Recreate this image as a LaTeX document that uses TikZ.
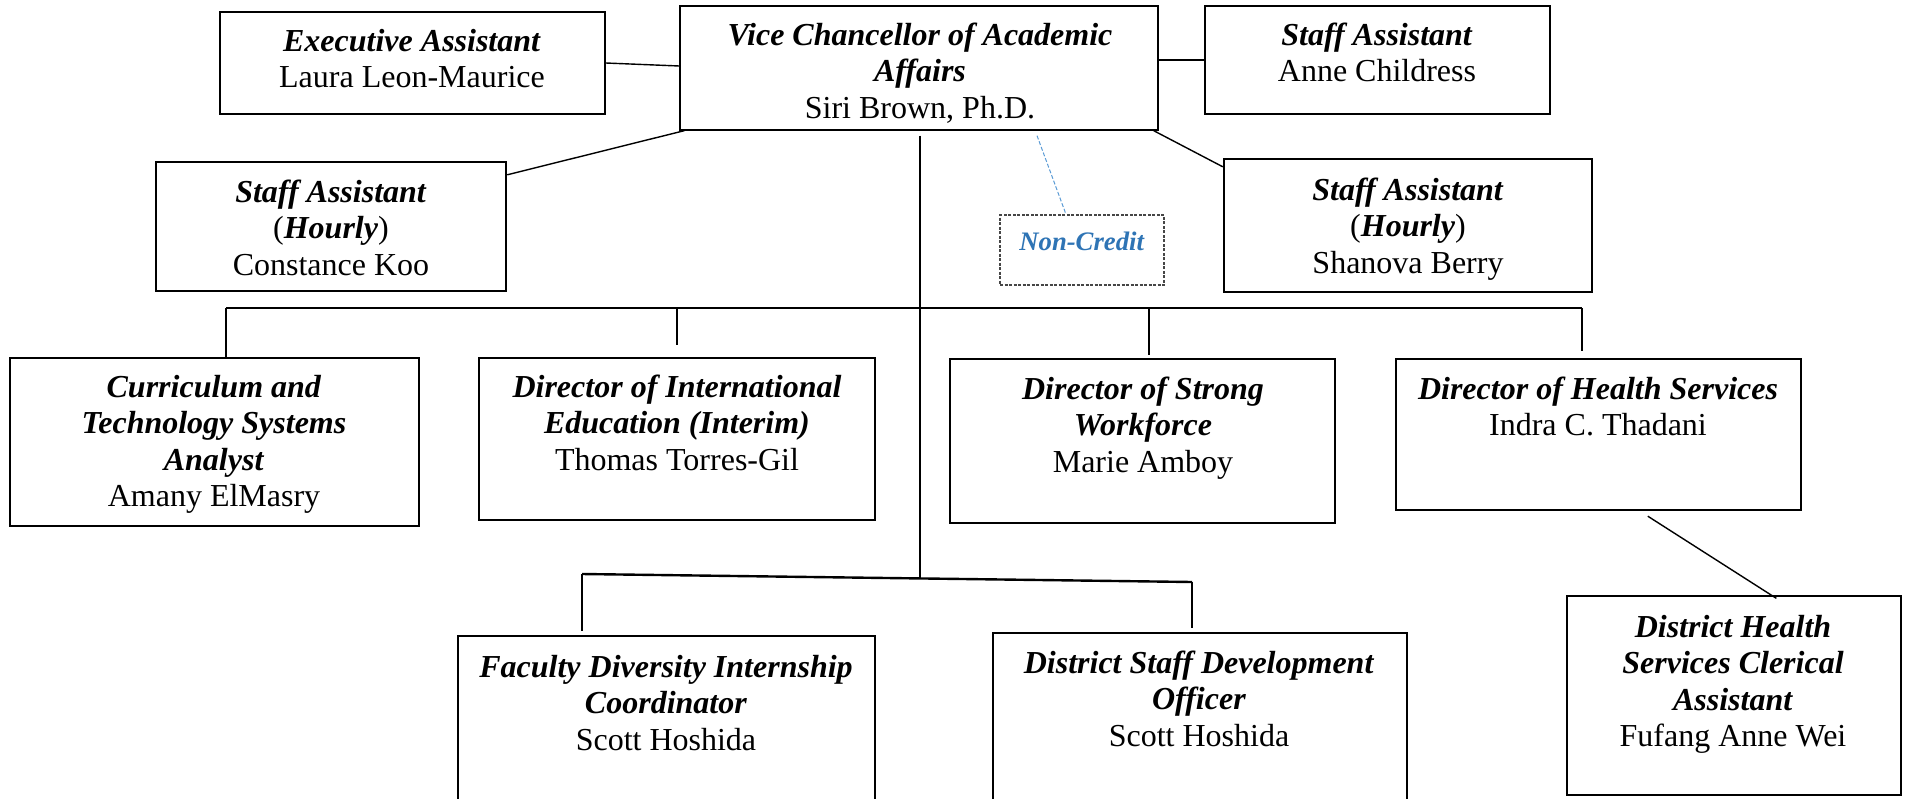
\documentclass[tikz,border=0pt]{standalone}
\usepackage{fontspec}
\setmainfont{Liberation Serif}
\usetikzlibrary{calc}
\definecolor{ncblue}{RGB}{46,116,181}
\definecolor{lnblue}{RGB}{91,155,213}
\definecolor{ncgray}{RGB}{70,70,70}
\newcommand\ti[1]{\textbf{\textit{#1}}}
\begin{document}
\begin{tikzpicture}[x=1pt,y=-1pt,
  box/.style={draw=black, line width=1.3pt, inner sep=0pt, fill=white},
  thickbox/.style={box, line width=2.4pt},
  ncbox/.style={draw=ncgray, line width=1.3pt, dash pattern=on 3pt off 1.5pt, inner sep=0pt},
  txt/.style={align=center, inner sep=0pt, anchor=north, font=\fontsize{32}{36.5}\selectfont},
  nctxt/.style={align=center, inner sep=0pt, anchor=north, text=ncblue, font=\fontsize{26.7}{30.7}\selectfont},
  conn/.style={line width=1.4pt},
  bus/.style={line width=2.4pt},
  trunk/.style={line width=1.8pt},
  ncline/.style={draw=lnblue, line width=1pt, dash pattern=on 4pt off 2pt}]
\useasboundingbox (0,0) rectangle (1908,798);
\clip (0,0) rectangle (1908,798);

% boxes
\node[box, minimum width=385pt, minimum height=102pt] (exec) at (412.5,63) {};
\node[box, minimum width=478pt, minimum height=124pt] (vc) at (919,68) {};
\node[box, minimum width=345pt, minimum height=108pt] (anne) at (1377.5,60) {};
\node[thickbox, minimum width=350pt, minimum height=129pt] (con) at (331,226.5) {};
\node[ncbox, minimum width=164pt, minimum height=70pt] (nc) at (1082,250) {};
\node[thickbox, minimum width=368pt, minimum height=133pt] (shan) at (1408,225.5) {};
\node[box, minimum width=409pt, minimum height=168pt] (cur) at (214.5,442) {};
\node[box, minimum width=396pt, minimum height=162pt] (intl) at (677,439) {};
\node[box, minimum width=385pt, minimum height=164pt] (strong) at (1142.5,441) {};
\node[thickbox, minimum width=405pt, minimum height=151pt] (health) at (1598.5,434.5) {};
\node[box, minimum width=417pt, minimum height=194pt] (fac) at (666.5,733) {};
\node[thickbox, minimum width=414pt, minimum height=197pt] (dsd) at (1200,731.5) {};
\node[box, minimum width=334pt, minimum height=199pt] (cler) at (1734,695.5) {};

% texts
\node[txt] (exec-t) at (412,25.5) {\strut\ti{Executive Assistant}\\Laura Leon-Maurice};
\node[txt] (vc-t) at (920,19.5) {\strut\ti{Vice Chancellor of Academic}\\\ti{Affairs}\\Siri Brown, Ph.D.};
\node[txt] (anne-t) at (1377,19.5) {\strut\ti{Staff Assistant}\\Anne Childress};
\node[txt] (con-t) at (331,176.5) {\strut\ti{Staff Assistant}\\(\ti{Hourly})\\Constance Koo};
\node[nctxt] (nc-t) at (1082,228.5) {\strut\ti{Non-Credit}};
\node[txt] (shan-t) at (1408,174.5) {\strut\ti{Staff Assistant}\\(\ti{Hourly})\\Shanova Berry};
\node[txt] (cur-t) at (214,371.5) {\strut\ti{Curriculum and}\\\ti{Technology Systems}\\\ti{Analyst}\\Amany ElMasry};
\node[txt] (intl-t) at (677,371.5) {\strut\ti{Director of International}\\\ti{Education (Interim)}\\Thomas Torres-Gil};
\node[txt] (strong-t) at (1143,373.5) {\strut\ti{Director of Strong}\\\ti{Workforce}\\Marie Amboy};
\node[txt] (health-t) at (1598,373.5) {\strut\ti{Director of Health Services}\\Indra C. Thadani};
\node[txt] (fac-t) at (666,651.5) {\strut\ti{Faculty Diversity Internship}\\\ti{Coordinator}\\Scott Hoshida};
\node[txt] (dsd-t) at (1199,647.5) {\strut\ti{District Staff Development}\\\ti{Officer}\\Scott Hoshida};
\node[txt] (cler-t) at (1733,611.5) {\strut\ti{District Health}\\\ti{Services Clerical}\\\ti{Assistant}\\Fufang Anne Wei};

% coordinates
\coordinate (busL) at (226,308);
\coordinate (busR) at (1582,308);
\coordinate (busC) at (920,308);
\coordinate (intlEnd) at (677,345);
\coordinate (lowL) at (582,574);
\coordinate (lowR) at (1192,582);
\coordinate (lowC) at (920,579);

% connectors
\draw[conn] (exec.east) -- ($(vc.west)+(0,-2)$);
\draw[conn] (vc.east |- anne.west) -- (anne.west);
\draw[conn] ($(vc.south west)+(5,0)$) -- ($(con.north east)+(0,14)$);
\draw[conn] ($(vc.south east)+(-5,0)$) -- ($(shan.north west)+(0,9)$);
\draw[trunk] ($(vc.south)+(1,5)$) -- (lowC);
\draw[bus] (busL) -- (busR);
\draw[conn] (busL) -- (busL |- cur.north);
\draw[conn] (intlEnd |- busL) -- (intlEnd);
\draw[conn] (1149,308) -- ($(strong.north)+(6.5,-3)$);
\draw[conn] (busR) -- ($(health.north -| busR)+(0,-7)$);
\draw[bus] (lowL) -- (lowR);
\draw[conn] (lowL) -- ($(fac.north -| lowL)+(0,-4)$);
\draw[conn] (lowR) -- ($(dsd.north -| lowR)+(0,-4)$);
\draw[conn] ($(health.south west)+(253,5)$) -- ($(cler.north west)+(210,3)$);
\draw[ncline] ($(vc.south)+(118,5)$) -- ($(nc.north)+(-16,0)$);
\end{tikzpicture}
\end{document}
